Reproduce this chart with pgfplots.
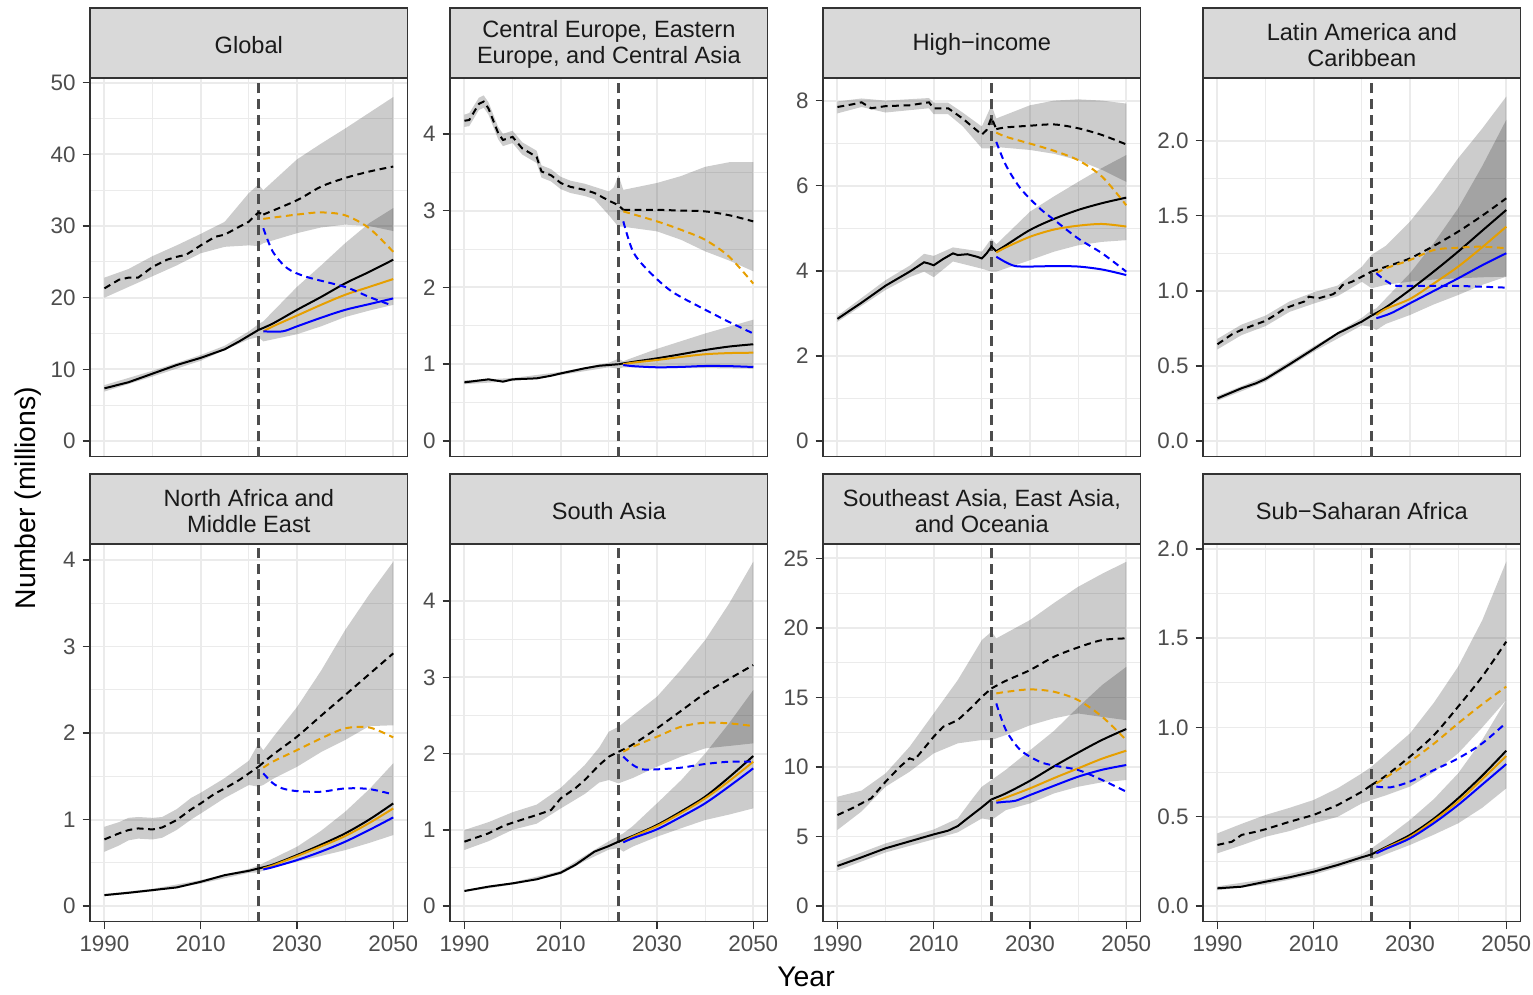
\documentclass[border=0pt]{standalone}
\usepackage{fontspec}
\setmainfont{Liberation Sans}
\usepackage{pgfplots}
\pgfplotsset{compat=1.18}
\definecolor{gridc}{HTML}{EBEBEB}
\definecolor{framec}{HTML}{333333}
\definecolor{stripc}{HTML}{D9D9D9}
\definecolor{tickc}{HTML}{4D4D4D}
\definecolor{stript}{HTML}{1A1A1A}
\definecolor{orng}{HTML}{E69F00}
\definecolor{blu}{HTML}{0000FF}
\tikzset{vl/.style={tickc, line width=1.05pt, dash pattern=on 5pt off 2.9pt}}
\pgfplotsset{
  panel/.style={scale only axis, width=158.85pt, anchor=south west,
    xmin=1987, xmax=2053, xtick={1990,2010,2030,2050}, minor x tick num=1, minor y tick num=1,
    grid=both, major grid style={gridc, line width=0.95pt}, minor grid style={gridc, line width=0.45pt},
    axis line style={framec, line width=0.75pt}, tick style={framec, line width=0.75pt},
    tick align=outside, major tick length=3.7pt, minor tick length=0pt,
    xtick pos=bottom, ytick pos=left,
    tick label style={font=\fontsize{11.2}{13}\selectfont, color=tickc},
    /pgf/number format/assume math mode=true,
    xticklabel style={/pgf/number format/1000 sep=},
    scaled y ticks=false, every axis plot/.append style={mark=none}},
  toprow/.style={height=189.35pt, xmajorticks=false},
  botrow/.style={height=188.85pt},
  dec1/.style={yticklabel style={/pgf/number format/.cd, fixed, fixed zerofill, precision=1}},
  rib/.style={draw=none, fill=black, fill opacity=0.2},
  blk/.style={black, line width=1.0pt},
  blkd/.style={black, line width=1.0pt, dash pattern=on 3.4pt off 2.3pt},
  org/.style={orng, line width=1.0pt},
  orgd/.style={orng, line width=1.0pt, dash pattern=on 3.4pt off 2.3pt},
  bl/.style={blu, line width=1.0pt},
  bld/.style={blu, line width=1.0pt, dash pattern=on 3.4pt off 2.3pt},
  fc/.style={smooth, tension=0.5},
}
\newcommand{\yrline}{\draw[vl] ({axis cs:2022,0}|-{rel axis cs:0,0}) -- ({axis cs:2022,0}|-{rel axis cs:0,1});}
\newcommand{\strip}[3]{%
  \draw[fill=stripc, draw=framec, line width=0.75pt] (#1,#2) rectangle ++(158.85pt,35pt);
  \node[align=center, text=stript, font=\fontsize{11.8}{13}\selectfont, inner sep=0pt] at ([xshift=79.425pt, yshift=16.6pt]#1,#2) {#3};}
\begin{document}
\begin{tikzpicture}
\useasboundingbox (0,0) rectangle (766.5pt,497.5pt);
% ---------------- Global
\begin{axis}[panel, toprow, at={(45pt,269.15pt)}, ymin=-2.19, ymax=50.66, ytick={0,10,20,30,40,50}]
\addplot[rib] coordinates {(1990,7.8)(2000,9.8)(2010,12.0)(2015,13.3)(2020,15.3)(2022,16.3)(2023,16.7)(2030,21.5)(2035,24.5)(2040,27.6)(2045,30.4)(2050,32.5)
 (2050,19.0)(2045,18.2)(2040,17.3)(2035,16.0)(2030,14.9)(2023,13.9)(2022,14.5)(2020,14.2)(2010,11.2)(2000,9.0)(1990,6.9)} -- cycle;
\addplot[rib] coordinates {(1990,22.8)(1995,24.0)(2000,25.8)(2005,27.3)(2010,28.9)(2015,30.6)(2020,34.6)(2022,35.8)(2023,35.0)(2030,39.3)(2035,41.5)(2040,43.6)(2045,45.8)(2050,48.0)
 (2050,29.3)(2045,30.0)(2040,30.2)(2035,29.8)(2030,29.0)(2023,27.6)(2022,27.2)(2020,27.3)(2015,27.1)(2010,26.2)(2005,24.5)(2000,23.0)(1995,21.5)(1990,20.0)} -- cycle;
\yrline
\addplot[blk] coordinates {(1990,7.35)(1995,8.2)(2000,9.4)(2005,10.6)(2010,11.6)(2015,12.8)(2018,13.9)(2020,14.7)(2022,15.5)};
\addplot[blk, fc] coordinates {(2022,15.5)(2025,16.4)(2030,18.3)(2035,20.1)(2040,22.0)(2045,23.6)(2050,25.3)};
\addplot[org, fc] coordinates {(2023,15.3)(2025,16.0)(2030,17.5)(2035,19.0)(2040,20.4)(2045,21.5)(2050,22.6)};
\addplot[bl, fc] coordinates {(2023,15.3)(2027,15.3)(2030,16.0)(2035,17.2)(2040,18.3)(2045,19.1)(2050,19.9)};
\addplot[blkd] coordinates {(1990,21.3)(1993,22.5)(1995,22.8)(1997,22.8)(2000,24.3)(2003,25.3)(2005,25.7)(2007,26.0)(2010,27.3)(2013,28.5)(2015,28.8)(2018,29.9)(2020,30.6)(2021,31.3)(2022,31.9)(2023,31.6)};
\addplot[blkd, fc] coordinates {(2023,31.6)(2030,33.6)(2035,35.5)(2040,36.7)(2045,37.6)(2050,38.3)};
\addplot[orgd, fc] coordinates {(2023,31.0)(2030,31.6)(2035,31.9)(2040,31.5)(2045,29.7)(2050,26.4)};
\addplot[bld, fc] coordinates {(2023,29.7)(2025,26.4)(2028,24.1)(2032,22.9)(2040,21.5)(2045,20.1)(2049,19.1)};
\end{axis}
% ---------------- CEE
\begin{axis}[panel, toprow, at={(225pt,269.15pt)}, ymin=-0.204, ymax=4.727, ytick={0,1,2,3,4}]
\addplot[rib] coordinates {(1990,0.79)(2000,0.82)(2010,0.90)(2020,1.02)(2022,1.07)(2023,1.04)(2030,1.20)(2040,1.40)(2050,1.58)
 (2050,0.94)(2040,0.95)(2030,0.95)(2023,0.96)(2022,0.94)(2020,0.96)(2010,0.86)(2000,0.78)(1990,0.74)} -- cycle;
\addplot[rib] coordinates {(1990,4.25)(1991,4.27)(1993,4.47)(1994,4.50)(1995,4.41)(1997,4.09)(1998,4.0)(2000,4.04)(2002,3.89)(2005,3.78)(2006,3.59)(2008,3.54)(2010,3.44)(2012,3.39)(2015,3.35)(2017,3.31)(2020,3.25)(2021,3.3)(2022,3.46)(2023,3.27)(2030,3.36)(2035,3.45)(2040,3.57)(2045,3.63)(2050,3.63)
 (2050,2.21)(2045,2.35)(2040,2.47)(2035,2.62)(2030,2.73)(2023,2.79)(2022,2.79)(2020,2.94)(2017,3.15)(2015,3.19)(2012,3.23)(2010,3.28)(2008,3.38)(2006,3.43)(2005,3.62)(2002,3.73)(2000,3.88)(1998,3.84)(1997,3.93)(1995,4.25)(1994,4.34)(1993,4.31)(1991,4.10)(1990,4.09)} -- cycle;
\yrline
\addplot[blk] coordinates {(1990,0.764)(1995,0.803)(1998,0.773)(2000,0.803)(2005,0.816)(2008,0.85)(2010,0.88)(2015,0.947)(2018,0.98)(2020,0.99)(2022,1.0)};
\addplot[blk, fc] coordinates {(2022,1.0)(2025,1.03)(2030,1.077)(2035,1.13)(2040,1.185)(2045,1.23)(2050,1.26)};
\addplot[org, fc] coordinates {(2023,1.0)(2025,1.02)(2030,1.055)(2035,1.095)(2040,1.13)(2045,1.145)(2050,1.15)};
\addplot[bl, fc] coordinates {(2023,0.99)(2025,0.975)(2030,0.96)(2035,0.965)(2040,0.977)(2045,0.975)(2050,0.964)};
\addplot[blkd] coordinates {(1990,4.17)(1991,4.18)(1993,4.39)(1994,4.42)(1995,4.33)(1997,4.01)(1998,3.92)(2000,3.96)(2002,3.81)(2005,3.70)(2006,3.51)(2008,3.46)(2010,3.36)(2012,3.31)(2015,3.27)(2017,3.23)(2020,3.13)(2022,3.07)(2023,3.01)};
\addplot[blkd, fc] coordinates {(2023,3.01)(2030,3.01)(2035,3.0)(2040,2.99)(2045,2.94)(2050,2.86)};
\addplot[orgd, fc] coordinates {(2023,2.99)(2030,2.86)(2035,2.75)(2040,2.62)(2045,2.40)(2050,2.05)};
\addplot[bld, fc] coordinates {(2023,2.86)(2025,2.47)(2028,2.23)(2033,1.95)(2040,1.71)(2045,1.55)(2050,1.40)};
\end{axis}
% ---------------- High-income
\begin{axis}[panel, toprow, at={(411.5pt,269.15pt)}, ymin=-0.369, ymax=8.531, ytick={0,2,4,6,8}]
\addplot[rib] coordinates {(1990,2.94)(2000,3.78)(2005,4.12)(2008,4.40)(2010,4.35)(2014,4.55)(2020,4.45)(2022,4.76)(2023,4.62)(2030,5.39)(2035,5.75)(2040,6.09)(2045,6.42)(2050,6.72)
 (2050,4.72)(2045,4.68)(2040,4.60)(2035,4.45)(2030,4.25)(2023,3.98)(2022,3.98)(2020,4.05)(2014,4.22)(2010,3.85)(2008,3.98)(2005,3.85)(2000,3.55)(1990,2.80)} -- cycle;
\addplot[rib] coordinates {(1990,7.98)(1995,8.05)(2000,8.0)(2009,8.06)(2010,7.95)(2013,7.95)(2016,7.72)(2020,7.39)(2022,7.89)(2023,7.58)(2030,7.89)(2035,8.0)(2040,8.03)(2045,8.0)(2050,7.93)
 (2050,6.09)(2045,6.37)(2040,6.60)(2035,6.75)(2030,6.84)(2023,6.91)(2022,6.88)(2020,6.88)(2016,7.40)(2013,7.68)(2010,7.68)(2009,7.82)(2000,7.72)(1995,7.85)(1990,7.70)} -- cycle;
\yrline
\addplot[blk] coordinates {(1990,2.87)(1995,3.25)(2000,3.65)(2005,3.98)(2008,4.2)(2009,4.17)(2010,4.13)(2012,4.28)(2014,4.41)(2015,4.37)(2017,4.39)(2019,4.33)(2020,4.29)(2021,4.41)(2022,4.57)(2023,4.46)};
\addplot[blk, fc] coordinates {(2023,4.46)(2025,4.6)(2030,4.96)(2035,5.22)(2040,5.43)(2045,5.59)(2050,5.72)};
\addplot[org, fc] coordinates {(2023,4.43)(2025,4.55)(2030,4.80)(2035,4.97)(2040,5.06)(2045,5.10)(2050,5.04)};
\addplot[bl, fc] coordinates {(2023,4.33)(2025,4.2)(2027,4.11)(2030,4.10)(2035,4.11)(2040,4.10)(2045,4.03)(2050,3.90)};
\addplot[blkd] coordinates {(1990,7.85)(1993,7.91)(1995,7.96)(1997,7.82)(2000,7.87)(2005,7.89)(2009,7.96)(2010,7.82)(2013,7.82)(2016,7.58)(2020,7.20)(2021,7.31)(2022,7.60)(2023,7.33)};
\addplot[blkd, fc] coordinates {(2023,7.33)(2025,7.37)(2030,7.41)(2035,7.44)(2040,7.35)(2045,7.19)(2050,6.97)};
\addplot[orgd, fc] coordinates {(2023,7.25)(2025,7.15)(2030,6.99)(2035,6.82)(2040,6.60)(2045,6.21)(2050,5.54)};
\addplot[bld, fc] coordinates {(2023,7.03)(2025,6.48)(2028,5.94)(2032,5.47)(2035,5.2)(2040,4.76)(2045,4.41)(2050,3.98)};
\end{axis}
% ---------------- Latin America
\begin{axis}[panel, toprow, dec1, at={(601.5pt,269.15pt)}, ymin=-0.1045, ymax=2.417, ytick={0,0.5,1,1.5,2}]
\addplot[rib] coordinates {(1990,0.30)(2000,0.43)(2010,0.63)(2020,0.82)(2022,0.87)(2023,0.883)(2025,0.95)(2030,1.117)(2035,1.32)(2040,1.549)(2045,1.83)(2050,2.138)
 (2050,1.094)(2045,1.04)(2040,0.972)(2035,0.91)(2030,0.839)(2025,0.78)(2023,0.739)(2022,0.76)(2020,0.77)(2010,0.595)(2000,0.395)(1990,0.268)} -- cycle;
\addplot[rib] coordinates {(1990,0.68)(1995,0.775)(2000,0.835)(2005,0.93)(2010,0.99)(2015,1.035)(2020,1.16)(2022,1.239)(2025,1.30)(2030,1.461)(2035,1.66)(2040,1.882)(2045,2.08)(2050,2.293)
 (2050,1.094)(2045,1.09)(2040,1.083)(2035,1.075)(2030,1.061)(2025,1.04)(2022,1.017)(2020,1.06)(2015,0.965)(2010,0.915)(2005,0.86)(2000,0.765)(1995,0.705)(1990,0.61)} -- cycle;
\yrline
\addplot[blk] coordinates {(1990,0.284)(1995,0.351)(1998,0.384)(2000,0.413)(2005,0.511)(2010,0.613)(2015,0.717)(2020,0.795)(2022,0.835)};
\addplot[blk, fc] coordinates {(2022,0.835)(2025,0.89)(2030,1.006)(2035,1.13)(2040,1.261)(2045,1.40)(2050,1.538)};
\addplot[org, fc] coordinates {(2023,0.839)(2025,0.88)(2030,0.946)(2035,1.05)(2040,1.161)(2045,1.29)(2050,1.427)};
\addplot[bl, fc] coordinates {(2023,0.817)(2026,0.85)(2030,0.917)(2035,1.0)(2040,1.083)(2045,1.17)(2050,1.25)};
\addplot[blkd] coordinates {(1990,0.644)(1993,0.71)(1995,0.74)(1998,0.777)(2000,0.80)(2002,0.839)(2004,0.883)(2006,0.906)(2008,0.928)(2009,0.961)(2011,0.95)(2014,0.977)(2015,1.0)(2016,1.039)(2018,1.061)(2020,1.094)(2022,1.128)};
\addplot[blkd, fc] coordinates {(2022,1.128)(2025,1.16)(2030,1.216)(2035,1.30)(2040,1.394)(2045,1.50)(2050,1.616)};
\addplot[orgd, fc] coordinates {(2023,1.117)(2025,1.15)(2030,1.205)(2035,1.272)(2040,1.287)(2045,1.294)(2050,1.283)};
\addplot[bld, fc] coordinates {(2023,1.117)(2025,1.066)(2027,1.034)(2030,1.032)(2040,1.032)(2050,1.021)};
\end{axis}
% ---------------- North Africa
\begin{axis}[panel, botrow, at={(45pt,36.65pt)}, ymin=-0.18, ymax=4.185, ytick={0,1,2,3,4}]
\addplot[rib] coordinates {(1990,0.14)(2000,0.20)(2010,0.30)(2020,0.43)(2022,0.47)(2025,0.55)(2030,0.686)(2035,0.87)(2040,1.09)(2045,1.35)(2050,1.65)
 (2050,0.821)(2045,0.73)(2040,0.647)(2035,0.58)(2030,0.513)(2025,0.45)(2022,0.39)(2020,0.385)(2010,0.26)(2000,0.17)(1990,0.115)} -- cycle;
\addplot[rib] coordinates {(1990,0.917)(1993,0.97)(1995,1.02)(1997,1.03)(2000,1.02)(2002,1.03)(2005,1.12)(2008,1.25)(2010,1.31)(2015,1.48)(2020,1.68)(2022,1.88)(2023,1.80)(2025,1.95)(2030,2.30)(2035,2.72)(2040,3.19)(2045,3.60)(2050,3.98)
 (2050,2.09)(2045,2.08)(2040,1.92)(2035,1.78)(2030,1.61)(2025,1.47)(2023,1.4)(2022,1.38)(2020,1.40)(2015,1.25)(2010,1.07)(2008,1.0)(2005,0.88)(2002,0.79)(2000,0.77)(1997,0.78)(1995,0.76)(1993,0.70)(1990,0.628)} -- cycle;
\yrline
\addplot[blk] coordinates {(1990,0.127)(1995,0.154)(2000,0.185)(2005,0.216)(2010,0.281)(2015,0.358)(2020,0.408)(2022,0.435)};
\addplot[blk, fc] coordinates {(2022,0.435)(2025,0.48)(2030,0.59)(2035,0.71)(2040,0.84)(2045,1.0)(2050,1.187)};
\addplot[org, fc] coordinates {(2023,0.435)(2025,0.47)(2030,0.578)(2035,0.69)(2040,0.81)(2045,0.96)(2050,1.129)};
\addplot[bl, fc] coordinates {(2023,0.424)(2025,0.45)(2030,0.532)(2035,0.63)(2040,0.744)(2045,0.88)(2050,1.025)};
\addplot[blkd] coordinates {(1990,0.771)(1993,0.84)(1995,0.879)(1997,0.898)(2000,0.886)(2002,0.909)(2005,0.994)(2008,1.118)(2010,1.187)(2013,1.303)(2015,1.36)(2018,1.457)(2020,1.534)(2022,1.611)};
\addplot[blkd, fc] coordinates {(2022,1.611)(2025,1.75)(2030,1.958)(2035,2.2)(2040,2.439)(2045,2.68)(2050,2.921)};
\addplot[orgd, fc] coordinates {(2023,1.6)(2025,1.67)(2030,1.803)(2035,1.938)(2040,2.054)(2045,2.065)(2050,1.95)};
\addplot[bld, fc] coordinates {(2023,1.534)(2025,1.42)(2027,1.36)(2030,1.329)(2035,1.322)(2040,1.36)(2045,1.353)(2050,1.29)};
\end{axis}
% ---------------- South Asia
\begin{axis}[panel, botrow, at={(225pt,36.65pt)}, ymin=-0.206, ymax=4.75, ytick={0,1,2,3,4}]
\addplot[rib] coordinates {(1990,0.21)(2000,0.31)(2010,0.46)(2015,0.66)(2020,0.85)(2022,0.92)(2023,0.953)(2025,1.05)(2030,1.347)(2035,1.65)(2040,2.0)(2045,2.4)(2050,2.833)
 (2050,1.281)(2045,1.2)(2040,1.128)(2035,1.02)(2030,0.909)(2025,0.78)(2023,0.713)(2022,0.76)(2020,0.74)(2015,0.59)(2010,0.415)(2000,0.28)(1990,0.185)} -- cycle;
\addplot[rib] coordinates {(1990,0.997)(1995,1.10)(2000,1.23)(2005,1.33)(2010,1.55)(2015,1.85)(2018,2.08)(2020,2.287)(2022,2.352)(2025,2.5)(2030,2.746)(2035,3.1)(2040,3.489)(2045,3.97)(2050,4.517)
 (2050,2.134)(2045,2.1)(2040,2.068)(2035,1.96)(2030,1.828)(2025,1.68)(2022,1.609)(2020,1.653)(2018,1.62)(2015,1.47)(2010,1.28)(2005,1.08)(2000,1.0)(1995,0.85)(1990,0.735)} -- cycle;
\yrline
\addplot[blk] coordinates {(1990,0.197)(1995,0.254)(2000,0.297)(2005,0.35)(2010,0.437)(2013,0.538)(2015,0.625)(2017,0.713)(2020,0.787)(2022,0.844)};
\addplot[blk, fc] coordinates {(2022,0.844)(2025,0.92)(2030,1.063)(2035,1.24)(2040,1.434)(2045,1.69)(2050,1.968)};
\addplot[org, fc] coordinates {(2023,0.844)(2025,0.91)(2030,1.049)(2035,1.22)(2040,1.412)(2045,1.64)(2050,1.893)};
\addplot[bl, fc] coordinates {(2023,0.835)(2025,0.89)(2030,1.006)(2035,1.17)(2040,1.347)(2045,1.57)(2050,1.806)};
\addplot[blkd] coordinates {(1990,0.844)(1995,0.953)(1998,1.049)(2000,1.093)(2005,1.194)(2008,1.259)(2010,1.412)(2013,1.543)(2015,1.653)(2018,1.85)(2020,1.959)(2022,2.024)};
\addplot[blkd, fc] coordinates {(2022,2.024)(2025,2.12)(2030,2.331)(2035,2.56)(2040,2.79)(2045,2.98)(2050,3.161)};
\addplot[orgd, fc] coordinates {(2023,2.024)(2025,2.09)(2030,2.221)(2035,2.352)(2040,2.405)(2045,2.396)(2050,2.361)};
\addplot[bld, fc] coordinates {(2023,1.959)(2025,1.85)(2027,1.793)(2030,1.793)(2035,1.815)(2040,1.863)(2045,1.893)(2050,1.893)};
\end{axis}
% ---------------- Southeast Asia
\begin{axis}[panel, botrow, at={(411.5pt,36.65pt)}, ymin=-1.13, ymax=26.04, ytick={0,5,10,15,20,25}]
\addplot[rib] coordinates {(1990,3.2)(2000,4.5)(2010,5.5)(2015,6.3)(2018,7.7)(2020,8.58)(2022,9.06)(2025,9.8)(2030,11.2)(2035,12.6)(2040,14.3)(2045,15.9)(2050,17.2)
 (2050,9.06)(2045,8.9)(2040,8.58)(2035,8.1)(2030,7.38)(2025,6.9)(2022,6.18)(2020,6.30)(2018,5.9)(2015,5.3)(2010,4.8)(2000,3.85)(1990,2.55)} -- cycle;
\addplot[rib] coordinates {(1990,7.86)(1995,8.3)(2000,9.54)(2005,11.46)(2010,13.85)(2015,16.25)(2020,19.13)(2022,19.73)(2023,19.25)(2030,20.57)(2035,21.8)(2040,22.96)(2045,23.9)(2050,24.76)
 (2050,13.37)(2045,13.6)(2040,13.85)(2035,13.5)(2030,13.0)(2025,12.3)(2023,12.06)(2022,11.94)(2020,11.94)(2015,11.7)(2010,10.98)(2005,9.66)(2000,8.58)(1995,6.8)(1990,5.47)} -- cycle;
\yrline
\addplot[blk] coordinates {(1990,2.88)(1995,3.5)(2000,4.15)(2005,4.65)(2010,5.15)(2013,5.42)(2015,5.75)(2017,6.3)(2020,7.1)(2022,7.67)};
\addplot[blk, fc] coordinates {(2022,7.67)(2025,8.1)(2030,9.01)(2035,10.05)(2040,11.03)(2045,11.95)(2050,12.73)};
\addplot[org, fc] coordinates {(2023,7.55)(2025,7.8)(2030,8.46)(2035,9.2)(2040,9.90)(2045,10.6)(2050,11.17)};
\addplot[bl, fc] coordinates {(2023,7.43)(2025,7.5)(2027,7.57)(2030,7.98)(2035,8.65)(2040,9.30)(2045,9.8)(2050,10.14)};
\addplot[blkd] coordinates {(1990,6.54)(1993,7.02)(1995,7.38)(1997,7.74)(2000,8.94)(2003,10.02)(2005,10.62)(2006,10.5)(2008,11.34)(2010,12.18)(2012,12.9)(2015,13.37)(2018,14.33)(2020,15.05)(2022,15.65)};
\addplot[blkd, fc] coordinates {(2022,15.65)(2025,16.2)(2030,16.97)(2035,17.93)(2040,18.6)(2045,19.13)(2050,19.25)};
\addplot[orgd, fc] coordinates {(2023,15.29)(2025,15.4)(2030,15.58)(2035,15.41)(2040,14.81)(2045,13.61)(2050,11.94)};
\addplot[bld, fc] coordinates {(2023,14.57)(2025,12.66)(2028,11.22)(2032,10.38)(2035,10.1)(2040,9.78)(2045,9.06)(2050,8.22)};
\end{axis}
% ---------------- Sub-Saharan Africa
\begin{axis}[panel, botrow, dec1, at={(601.5pt,36.65pt)}, ymin=-0.088, ymax=2.028, ytick={0,0.5,1,1.5,2}]
\addplot[rib] coordinates {(1990,0.11)(2000,0.15)(2010,0.21)(2020,0.29)(2022,0.323)(2025,0.38)(2030,0.482)(2035,0.6)(2040,0.743)(2045,0.93)(2050,1.154)
 (2050,0.659)(2045,0.55)(2040,0.463)(2035,0.4)(2030,0.342)(2025,0.29)(2022,0.258)(2020,0.255)(2010,0.175)(2000,0.12)(1990,0.088)} -- cycle;
\addplot[rib] coordinates {(1990,0.407)(1995,0.46)(2000,0.51)(2005,0.55)(2010,0.594)(2015,0.66)(2020,0.743)(2022,0.78)(2025,0.85)(2030,0.967)(2035,1.14)(2040,1.341)(2045,1.6)(2050,1.929)
 (2050,1.154)(2045,1.0)(2040,0.855)(2035,0.75)(2030,0.669)(2025,0.62)(2022,0.594)(2020,0.575)(2015,0.5)(2010,0.463)(2005,0.42)(2000,0.388)(1995,0.34)(1990,0.295)} -- cycle;
\yrline
\addplot[blk] coordinates {(1990,0.099)(1995,0.108)(2000,0.136)(2005,0.161)(2010,0.192)(2015,0.23)(2020,0.273)(2022,0.289)};
\addplot[blk, fc] coordinates {(2022,0.289)(2025,0.33)(2030,0.398)(2035,0.49)(2040,0.603)(2045,0.73)(2050,0.87)};
\addplot[org, fc] coordinates {(2023,0.295)(2025,0.325)(2030,0.388)(2035,0.48)(2040,0.585)(2045,0.71)(2050,0.84)};
\addplot[bl, fc] coordinates {(2023,0.295)(2025,0.32)(2030,0.379)(2035,0.465)(2040,0.566)(2045,0.68)(2050,0.795)};
\addplot[blkd] coordinates {(1990,0.342)(1993,0.36)(1995,0.398)(1998,0.416)(2000,0.43)(2005,0.472)(2010,0.51)(2015,0.566)(2020,0.64)(2022,0.678)};
\addplot[blkd, fc] coordinates {(2022,0.678)(2025,0.73)(2030,0.837)(2035,0.958)(2040,1.117)(2045,1.285)(2050,1.481)};
\addplot[orgd, fc] coordinates {(2023,0.687)(2025,0.72)(2030,0.809)(2035,0.91)(2040,1.023)(2045,1.13)(2050,1.229)};
\addplot[bld, fc] coordinates {(2023,0.669)(2026,0.665)(2030,0.697)(2035,0.762)(2040,0.827)(2045,0.911)(2050,1.027)};
\end{axis}
% strips
\strip{45pt}{458.5pt}{Global}
\strip{225pt}{458.5pt}{Central Europe, Eastern\\Europe, and Central Asia}
\strip{411.5pt}{458.5pt}{High−income}
\strip{601.5pt}{458.5pt}{Latin America and\\Caribbean}
\strip{45pt}{225.5pt}{North Africa and\\Middle East}
\strip{225pt}{225.5pt}{South Asia}
\strip{411.5pt}{225.5pt}{Southeast Asia, East Asia,\\and Oceania}
\strip{601.5pt}{225.5pt}{Sub−Saharan Africa}
% axis titles
\node[rotate=90, font=\fontsize{14.2}{16}\selectfont] at (14pt,248.5pt) {Number (millions)};
\node[font=\fontsize{14.2}{16}\selectfont] at (403pt,9pt) {Year};
\end{tikzpicture}
\end{document}
